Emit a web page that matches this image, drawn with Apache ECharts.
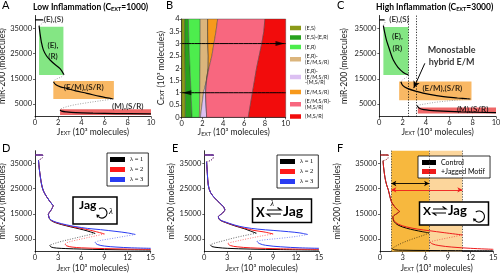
<!DOCTYPE html>
<html>
<head>
<meta charset="utf-8">
<script src="https://cdn.jsdelivr.net/npm/echarts@6/dist/echarts.min.js"></script>
<style>
html, body { margin: 0; padding: 0; background: #fff; }
#main { width: 500px; height: 274px; }
</style>
</head>
<body>
<div id="main"></div>
<script>
var FONT = 'Lato, "Open Sans", sans-serif';
var SERIF = '"Liberation Serif", "DejaVu Serif", serif';
var GREY = '#8c8c8c';

// ---- Panel A: low inflammation (x: J_EXT in 10^3, y: miR-200 molecules)
var aTop = [[0, 38300], [0.7, 38300]];
var aTopFold = [[0.7, 38300], [0.75, 37600], [0.55, 36600], [0.35, 36000]];
var aER = [[0.35, 36000], [0.43, 33000], [0.55, 29500], [0.72, 26400], [1.0, 24000], [1.3, 22400], [1.7, 20700], [2.16, 19000], [2.5, 16600]];
var aFold1 = [[2.5, 16600], [2.3, 15800], [1.9, 15000], [1.65, 14300], [1.6, 13700]];
var aEM = [[1.6, 13700], [1.8, 12600], [2.2, 11800], [2.74, 11200], [3.5, 10200], [4.47, 9250], [5.6, 8000], [6.75, 7000]];
var aFold2 = [[6.75, 7000], [5.5, 6200], [4.2, 5300], [3.2, 4500], [2.5, 3600], [2.2, 3000], [2.16, 2650]];
var aM = [[2.16, 2650], [2.3, 2200], [2.7, 1900], [3.5, 1600], [5, 1400], [7, 1250], [10, 1100]];
var aGreenBox = [[0.35, 16500], [2.45, 35600]];
var aOrangeBox = [[1.58, 7000], [6.8, 14100]];
var aRedBox = [[2.16, 700], [10, 2900]];
var aLabels = [[1.6, 38300, '(E),(S)'], [1.55, 26000, '(E),\n(R)'], [4.2, 11500, '(E/M),(S/R)'], [8.0, 4200, '(M),(S/R)']];

// ---- Panel C: high inflammation
var cTop = [[0, 38300], [0.45, 38300]];
var cTopFold = [[0.45, 38300], [0.5, 37500], [0.4, 36500], [0.35, 36000]];
var cER = [[0.35, 36000], [0.45, 33500], [0.6, 30500], [0.77, 28000], [1.0, 24800], [1.2, 22400], [1.6, 19500], [2.06, 17500], [2.5, 16500]];
var cFold1 = [[2.5, 16500], [2.3, 15500], [2.0, 14600], [1.85, 13800]];
var cEM = [[1.85, 13800], [2.0, 12400], [2.4, 11200], [3.2, 10000], [4.3, 8800], [5.5, 7900], [6.7, 7400], [7.8, 7000]];
var cFold2 = [[7.8, 7000], [6.5, 6500], [5.0, 5800], [4.0, 5100], [3.4, 4600], [3.25, 4300]];
var cM = [[3.25, 4300], [3.4, 3400], [3.8, 2800], [5, 2300], [7, 1900], [10, 1600]];
var cGreenBox = [[0.35, 16500], [2.5, 35500]];
var cOrangeBox = [[1.7, 6500], [7.9, 13900]];
var cRedBox = [[3.3, 1300], [10, 3600]];
var cVLines = [2.5, 3.15];
var cArrow = [[3.9, 21100], [2.95, 11300]];
var cLabels = [[1.69, 38300, '(E),(S)'], [1.55, 29400, '(E),\n(R)'], [5.4, 11200, '(E/M),(S/R)'], [8.0, 3000, '(M),(S/R)']];
var cNote = [[6.2, 24000, 'Monostable\nhybrid E/M']];

// ---- Panel B: phase regions, boundaries x(C_EXT)
var bY = [0, 0.5, 1, 1.5, 2, 2.5, 3, 3.5, 4];
var bLeft = [0, 0, 0, 0, 0, 0, 0, 0, 0];
var bOlive = [0.35, 0.35, 0.35, 0.35, 0.33, 0.32, 0.3, 0.3, 0.3];
var bDkGreen = [1.0, 0.95, 0.9, 0.85, 0.8, 0.75, 0.7, 0.67, 0.65];
var bLtGreen = [1.7, 1.72, 1.74, 1.75, 1.76, 1.77, 1.78, 1.78, 1.78];
var bTan = [1.8, 1.95, 2.1, 2.38, 2.55, 2.56, 2.52, 2.5, 2.5];
var bLav = [2.4, 2.35, 2.3, 2.38, 2.55, 2.56, 2.52, 2.5, 2.5];
var bOrange = [2.4, 2.35, 2.3, 2.4, 2.62, 2.9, 3.1, 3.3, 3.46];
var bPink = [6.4, 6.6, 6.8, 7.0, 7.2, 7.45, 7.7, 7.9, 8.0];
var bRight = [10, 10, 10, 10, 10, 10, 10, 10, 10];
var bNames = ['(E,S)', '(E,S)-(E,R)', '(E,R)', '(E,R)-\n(E/M,S/R)', '(E,R)-\n(E/M,S/R)\n-(M,S/R)', '(E/M,S/R)', '(E/M,S/R)-\n(M,S/R)', '(M,S/R)'];
var bColors = ['#8b9a18', '#27a21d', '#4ded4d', '#dbb57c', '#dcc0f2', '#f7991c', '#f8677f', '#f20c0c'];
var bLineHi = [[0, 3], [10, 3]];
var bLineLo = [[0, 1], [10, 1]];
var bHeadRight = [[9.45, 3]];
var bHeadLeft = [[0.5, 1]];

// ---- Panel D: Jag self-activation, lambda = 1, 2, 3
var lamNames = ['λ = 1', 'λ = 2', 'λ = 3'];
var lamColors = ['#000000', '#ff1a1a', '#2a3cf2'];
var dTop = [[0, 38300], [1.0, 38300]];
var dTopFold = [[1.0, 38300], [0.95, 37200], [0.7, 36600], [0.45, 36300]];
var dER = [[0.45, 36300], [0.55, 33000], [0.7, 29500], [0.87, 26400], [1.1, 24000], [1.5, 21800], [1.9, 20000], [2.37, 18200]];
var dFold1 = [[2.37, 18200], [2.1, 16500], [1.85, 15500], [1.73, 14800]];
var dEM = [
  [[1.73, 14800], [1.85, 13200], [2.1, 12300], [2.8, 11300], [4.1, 10200], [5.2, 9400], [6.3, 8600], [7.2, 7800], [7.8, 7200]],
  [[1.73, 14800], [1.85, 13250], [2.1, 12400], [2.8, 11450], [4.1, 10400], [5.2, 9650], [6.5, 8900], [7.8, 8000], [9.0, 7000]],
  [[1.73, 14800], [1.85, 13300], [2.1, 12500], [2.8, 11600], [4.1, 10600], [5.2, 9950], [6.8, 9200], [8.5, 8700], [10.5, 8000], [12, 7400], [13, 6800]]
];
var dFold2 = [
  [[7.8, 7200], [6.5, 6300], [5, 5200], [3.5, 4100], [2.4, 3100], [1.9, 2500]],
  [[9.0, 7000], [7.8, 6200], [6.3, 5200], [5, 4300], [4.1, 3500], [3.9, 3000]],
  [[13, 6800], [11.5, 6000], [10, 5200], [8.8, 4600], [8, 4000], [7.8, 3600]]
];
var dM = [
  [[1.9, 2500], [2.1, 1800], [2.8, 1400], [4, 1200], [6, 1000], [9, 800], [12, 700], [15, 600]],
  [[3.9, 3000], [4.1, 2300], [4.8, 1800], [6, 1500], [9, 1200], [12, 1000], [15, 900]],
  [[7.8, 3600], [8.1, 2800], [9, 2200], [10.5, 1800], [12.5, 1500], [15, 1300]]
];

// ---- Panel E: X <-> Jag exchange, lambda = 1, 2, 3
var eTop = [[0, 38300], [1.2, 38300]];
var eTopFold = [[1.2, 38300], [1.15, 37000], [0.7, 36000], [0.3, 35600]];
var eER = [[0.3, 35600], [0.4, 31000], [0.52, 26400], [0.8, 23500], [1.4, 21100], [2.0, 19300], [2.5, 17800], [2.7, 16500]];
var eFold1 = [[2.7, 16500], [2.4, 15300], [2.0, 14400], [1.83, 13800]];
var eEM = [
  [[1.83, 13800], [2.0, 12600], [2.7, 11600], [4, 10200], [5.3, 9000], [6.0, 8200], [6.8, 7300]],
  [[1.83, 13800], [2.0, 12650], [2.7, 11700], [4, 10350], [5.3, 9250], [6.5, 8400], [7.8, 7800], [9.0, 7000]],
  [[1.83, 13800], [2.0, 12700], [2.7, 11800], [4, 10500], [5.3, 9600], [7, 8900], [9, 8400], [11, 7900], [12.5, 7400], [13.5, 6800]]
];
var eFold2 = [
  [[6.8, 7300], [5.5, 6500], [4, 5500], [2.5, 4300], [1.3, 3300], [0.8, 2700]],
  [[9.0, 7000], [7.5, 6200], [5.5, 5000], [4, 4000], [3.2, 3400], [3.1, 3100]],
  [[13.5, 6800], [12, 6000], [10, 5300], [8, 4700], [7.1, 4300], [6.9, 4000]]
];
var eM = [
  [[0.8, 2700], [1.0, 2000], [1.8, 1600], [3, 1300], [6, 1000], [10, 800], [15, 600]],
  [[3.1, 3100], [3.4, 2400], [4.3, 1900], [6, 1500], [10, 1100], [15, 900]],
  [[6.9, 4000], [7.2, 3200], [8, 2500], [10, 1900], [12.5, 1500], [15, 1300]]
];

// ---- Panel F: control vs +Jagged motif
var fNames = ['Control', '+Jagged Motif'];
var fColors = ['#000000', '#ee1c1c'];
var fTop = [[0, 38300], [1.1, 38300]];
var fTopFold = [[1.1, 38300], [1.05, 37000], [0.7, 36300], [0.4, 36000]];
var fER = [[0.4, 36000], [0.47, 33600], [0.65, 29500], [0.88, 26400], [1.1, 24500], [1.3, 22000], [1.55, 19500], [2.0, 17600], [2.6, 15900]];
var fFold1 = [[2.6, 15900], [2.2, 15000], [1.85, 14300], [1.7, 13800]];
var fEM = [
  [[1.7, 13800], [1.85, 12000], [2.4, 10500], [3.5, 9300], [4.6, 8500], [5.6, 7900], [6.5, 7400]],
  [[1.7, 13800], [1.85, 12300], [2.4, 10900], [3.5, 9800], [5, 8900], [6.5, 8300], [8.5, 7500], [10.9, 6600]]
];
var fFold2 = [
  [[6.5, 7400], [5.6, 6300], [4.3, 5000], [3.0, 3500], [2.0, 2000], [1.6, 1200]],
  [[10.9, 6600], [9.6, 5800], [8.3, 5000], [7.2, 4300], [6.6, 3900]]
];
var fM = [
  [[1.6, 1200], [1.9, 700], [3, 550], [6, 450], [10, 380], [15, 320]],
  [[6.6, 3900], [6.9, 3100], [7.8, 2400], [9.5, 1800], [12, 1300], [15, 900]]
];
var fDarkBand = [1.5, 6.5];
var fLightBand = [6.5, 10.9];
var fVLines = [1.5, 6.5, 10.9];
var fArrowCtrl = [[1.5, 27000], [6.5, 27000]];
var fArrowJag = [[1.5, 24500], [10.9, 24500]];

var mirTicks = [5000, 15000, 25000, 35000];

var myChart = echarts.init(document.getElementById('main'));

var subRich = {
  n: { fontFamily: FONT, fontSize: 8.5, color: '#222' },
  s: { fontFamily: FONT, fontSize: 5.5, color: '#222', verticalAlign: 'bottom' }
};
var jName = '{n|J}{s|EXT}{n| (10³ molecules)}';

function xAxisCfg(g, max, interval, gap) {
  return {
    type: 'value', gridIndex: g, min: 0, max: max, interval: interval,
    axisLine: { lineStyle: { color: '#000', width: 0.8 } },
    axisTick: { length: 2, lineStyle: { color: '#000', width: 0.6 } },
    splitLine: { show: false },
    axisLabel: { fontSize: 7.5, color: '#222', margin: 2, fontFamily: FONT },
    name: jName, nameLocation: 'middle', nameGap: gap,
    nameTextStyle: { fontFamily: FONT, fontSize: 8.5, color: '#222', rich: subRich }
  };
}
function mirAxis(g, gap) {
  return {
    type: 'value', gridIndex: g, min: 0, max: 40000,
    axisLine: { lineStyle: { color: '#000', width: 0.8 } },
    axisTick: { length: 2, customValues: mirTicks, lineStyle: { color: '#000', width: 0.6 } },
    splitLine: { show: false },
    axisLabel: { fontSize: 7.5, color: '#222', margin: 3, fontFamily: FONT, customValues: mirTicks,
      formatter: function (v) { return String(v); } },
    name: 'miR-200 (molecules)', nameLocation: 'middle', nameGap: gap,
    nameTextStyle: { fontFamily: FONT, fontSize: 8.5, color: '#222' }
  };
}

function seg(g, data, color, width, dotted, name) {
  var s = {
    type: 'line', xAxisIndex: g, yAxisIndex: g, data: data, smooth: 0.35,
    symbol: 'none', silent: true, z: 5, color: color,
    lineStyle: { color: color, width: width, type: dotted ? [1, 1.5] : 'solid' }
  };
  if (name) s.name = name;
  return s;
}
function host(g, extra) {
  var s = { type: 'line', xAxisIndex: g, yAxisIndex: g, data: [[0, 0]], symbol: 'none', silent: true, z: 2,
    lineStyle: { width: 0 } };
  for (var k in extra) s[k] = extra[k];
  return s;
}
function boxes(list) {
  return {
    silent: true, label: { show: false },
    data: list.map(function (b) {
      return [{ coord: b[0], itemStyle: { color: b[2], opacity: 1 } }, { coord: b[1] }];
    })
  };
}
function labels(g, data, size, lh) {
  return {
    type: 'scatter', xAxisIndex: g, yAxisIndex: g, data: data, symbolSize: 0, silent: true, z: 8,
    label: { show: true, position: 'inside', formatter: function (p) { return p.data[2]; },
      fontFamily: FONT, fontWeight: 'bold', fontSize: size, color: '#000', lineHeight: lh }
  };
}

var series = [];

// Panel A
series.push(host(0, { markArea: boxes([
  [aGreenBox[0], aGreenBox[1], '#84e684'],
  [aOrangeBox[0], aOrangeBox[1], '#f9b864'],
  [aRedBox[0], aRedBox[1], '#ef6868']
]) }));
series.push(seg(0, aTop, '#000', 1.2), seg(0, aTopFold, GREY, 0.8, true), seg(0, aER, '#000', 1.2),
  seg(0, aFold1, GREY, 0.8, true), seg(0, aEM, '#000', 1.2), seg(0, aFold2, GREY, 0.8, true), seg(0, aM, '#000', 1.2));
series.push(labels(0, aLabels, 8, 11.5));

// Panel C
series.push(host(2, { markArea: boxes([
  [cGreenBox[0], cGreenBox[1], '#84e684'],
  [cOrangeBox[0], cOrangeBox[1], '#f9b864'],
  [cRedBox[0], cRedBox[1], '#ef6868']
]) }));
series.push(host(2, { z: 6, markLine: { silent: true, symbol: ['none', 'none'], label: { show: false },
  lineStyle: { type: [1.2, 1.5], color: '#000', width: 0.8 },
  data: cVLines.map(function (v) { return { xAxis: v }; }) } }));
series.push(host(2, { z: 7, markLine: { silent: true, symbol: ['none', 'arrow'], symbolSize: [5, 7], label: { show: false },
  lineStyle: { type: 'solid', color: '#000', width: 1 },
  data: [[{ coord: cArrow[0] }, { coord: cArrow[1] }]] } }));
series.push(seg(2, cTop, '#000', 1.2), seg(2, cTopFold, GREY, 0.8, true), seg(2, cER, '#000', 1.2),
  seg(2, cFold1, GREY, 0.8, true), seg(2, cEM, '#000', 1.2), seg(2, cFold2, GREY, 0.8, true), seg(2, cM, '#000', 1.2));
series.push(labels(2, cLabels, 8, 11.5));
series.push(labels(2, cNote, 9, 12));

// Panel B regions
var bEdges = [bLeft, bOlive, bDkGreen, bLtGreen, bTan, bLav, bOrange, bPink, bRight];
bNames.forEach(function (nm, i) {
  series.push({
    type: 'custom', name: nm, xAxisIndex: 1, yAxisIndex: 1, z: 1, silent: true,
    itemStyle: { color: bColors[i] }, data: [[i, 0]],
    renderItem: function (params, api) {
      var L = bEdges[i], R = bEdges[i + 1], pts = [];
      for (var k = 0; k < bY.length; k++) pts.push(api.coord([L[k], bY[k]]));
      for (var k2 = bY.length - 1; k2 >= 0; k2--) pts.push(api.coord([R[k2], bY[k2]]));
      return { type: 'polygon', shape: { points: pts },
        style: { fill: bColors[i], stroke: '#3a3a3a', lineWidth: 0.4 } };
    }
  });
});
series.push(seg(1, bLineHi, '#000', 1), seg(1, bLineLo, '#000', 1));
series.push({ type: 'scatter', xAxisIndex: 1, yAxisIndex: 1, data: bHeadRight, symbol: 'triangle',
  symbolSize: [5, 9], symbolRotate: -90, itemStyle: { color: '#000' }, silent: true, z: 6 });
series.push({ type: 'scatter', xAxisIndex: 1, yAxisIndex: 1, data: bHeadLeft, symbol: 'triangle',
  symbolSize: [5, 9], symbolRotate: 90, itemStyle: { color: '#000' }, silent: true, z: 6 });

// Panels D and E
function lambdaPanel(g, top, topFold, er, fold1, em, fold2, m) {
  for (var i = 0; i < 3; i++) {
    var c = lamColors[i];
    series.push(seg(g, top, c, 1, false, lamNames[i]), seg(g, topFold, c, 0.6, true), seg(g, er, c, 1, false, lamNames[i]),
      seg(g, fold1, c, 0.8, false, lamNames[i]), seg(g, em[i], c, 1, false, lamNames[i]),
      seg(g, fold2[i], c, 0.6, true), seg(g, m[i], c, 1, false, lamNames[i]));
  }
}
lambdaPanel(3, dTop, dTopFold, dER, dFold1, dEM, dFold2, dM);
lambdaPanel(4, eTop, eTopFold, eER, eFold1, eEM, eFold2, eM);

// Panel F
series.push(host(5, { z: 1, markArea: { silent: true, label: { show: false }, data: [
  [{ xAxis: fDarkBand[0], itemStyle: { color: '#f7b83e', opacity: 1 } }, { xAxis: fDarkBand[1] }],
  [{ xAxis: fLightBand[0], itemStyle: { color: '#fcd69c', opacity: 1 } }, { xAxis: fLightBand[1] }]
] } }));
series.push(host(5, { z: 3, markLine: { silent: true, symbol: ['none', 'none'], label: { show: false },
  lineStyle: { type: [1.2, 1.5], color: '#333', width: 0.8 },
  data: fVLines.map(function (v) { return { xAxis: v }; }) } }));
series.push(host(5, { z: 6, markLine: { silent: true, symbol: ['arrow', 'arrow'], symbolSize: [4, 5], label: { show: false },
  lineStyle: { type: 'solid', color: '#000', width: 0.9 },
  data: [[{ coord: fArrowCtrl[0] }, { coord: fArrowCtrl[1] }]] } }));
series.push(host(5, { z: 6, markLine: { silent: true, symbol: ['arrow', 'arrow'], symbolSize: [4, 5], label: { show: false },
  lineStyle: { type: 'solid', color: '#ee1c1c', width: 0.9 },
  data: [[{ coord: fArrowJag[0] }, { coord: fArrowJag[1] }]] } }));
for (var f = 0; f < 2; f++) {
  var fc = fColors[f];
  series.push(seg(5, fTop, fc, 1, false, fNames[f]), seg(5, fTopFold, fc, 0.6, true), seg(5, fER, fc, 1, false, fNames[f]),
    seg(5, fFold1, fc, 0.8, false, fNames[f]), seg(5, fEM[f], fc, 1, false, fNames[f]),
    seg(5, fFold2[f], fc, 0.6, true), seg(5, fM[f], fc, 1, false, fNames[f]));
}

// inset diagrams
function harpoons(x0, x1, y) {
  return [
    { type: 'polyline', shape: { points: [[x0, y], [x1, y], [x1 - 3.5, y - 2.5]] }, style: { stroke: '#000', lineWidth: 1.2, fill: null } },
    { type: 'polyline', shape: { points: [[x1, y + 4], [x0, y + 4], [x0 + 3.5, y + 6.5]] }, style: { stroke: '#000', lineWidth: 1.2, fill: null } }
  ];
}
function loopArrow(cx, cy, r) {
  var a = Math.PI * 0.75;
  var ex = cx + r * Math.cos(a), ey = cy + r * Math.sin(a);
  var dx = -Math.sin(a), dy = Math.cos(a);
  return [
    { type: 'arc', shape: { cx: cx, cy: cy, r: r, startAngle: -Math.PI * 0.7, endAngle: a, clockwise: true },
      style: { stroke: '#000', lineWidth: 1.1, fill: null } },
    { type: 'polygon', shape: { points: [[ex + dx * 3, ey + dy * 3], [ex - dy * 2, ey + dx * 2], [ex + dy * 2, ey - dx * 2]] },
      style: { fill: '#000' } }
  ];
}
var insetText = function (x, y, t, size, extra) {
  var st = { text: t, x: x, y: y, fontFamily: FONT, fontWeight: 'bold', fontSize: size, fill: '#000', verticalAlign: 'middle' };
  for (var k in (extra || {})) st[k] = extra[k];
  return { type: 'text', style: st, z: 20 };
};
var graphic = [
  { type: 'rect', shape: { x: 73, y: 197, width: 44, height: 27 }, style: { fill: '#fff', stroke: '#000', lineWidth: 1.5 }, z: 19 },
  insetText(79, 205, 'Jag', 12),
  { type: 'rect', shape: { x: 252.5, y: 199, width: 59, height: 23.5 }, style: { fill: '#fff', stroke: '#000', lineWidth: 1.5 }, z: 19 },
  insetText(256, 212.5, 'X', 13),
  insetText(270.5, 203.5, 'λ', 8, { fontFamily: SERIF, fontWeight: 'normal', fontStyle: 'italic' }),
  insetText(283, 211.5, 'Jag', 14),
  { type: 'rect', shape: { x: 419.5, y: 202, width: 69, height: 23 }, style: { fill: '#fff', stroke: '#000', lineWidth: 1.5 }, z: 19 },
  insetText(423, 211, 'X', 12),
  insetText(448, 210.5, 'Jag', 13)
];
graphic.push(insetText(109, 212, 'λ', 9, { fontFamily: SERIF, fontWeight: 'normal', fontStyle: 'italic' }));
loopArrow(102, 213, 5).concat(harpoons(267, 281, 210), harpoons(433, 446, 209), loopArrow(479, 216.5, 5.5))
  .forEach(function (el) { el.z = 20; graphic.push(el); });

var titleRich = {
  b: { fontFamily: FONT, fontSize: 8.5, fontWeight: 'bold', color: '#000' },
  s: { fontFamily: FONT, fontSize: 5.5, fontWeight: 'bold', color: '#000', verticalAlign: 'bottom' }
};
function letter(t, x, y) {
  return { text: t, left: x, top: y, padding: 0, textStyle: { fontFamily: FONT, fontSize: 11, fontWeight: 'normal', color: '#000' } };
}

var option = {
  animation: false,
  backgroundColor: '#fff',
  title: [
    letter('A', 2, 0), letter('B', 166, 0), letter('C', 337, 0),
    letter('D', 2, 143), letter('E', 172, 143), letter('F', 337, 143),
    { text: '{b|Low Inflammation (C}{s|EXT}{b|=1000)}', left: 33, top: 3, padding: 0, textStyle: { rich: titleRich } },
    { text: '{b|High Inflammation (C}{s|EXT}{b|=3000)}', left: 376, top: 3, padding: 0, textStyle: { rich: titleRich } }
  ],
  legend: [
    { data: bNames, orient: 'vertical', left: 290, top: 25, padding: 0, itemGap: 3.5, itemWidth: 11, itemHeight: 4.5,
      icon: 'rect', selectedMode: false, textStyle: { fontFamily: FONT, fontSize: 5.5, lineHeight: 5.5, color: '#222', padding: [0, 0, 0, -1] } },
    { data: lamNames, orient: 'vertical', left: 107, top: 153, padding: [3, 5, 3, 3], itemGap: 3, itemWidth: 15, itemHeight: 5,
      icon: 'rect', selectedMode: false, backgroundColor: '#fff', borderColor: '#000', borderWidth: 0.8,
      textStyle: { fontFamily: SERIF, fontSize: 6.5, color: '#000' } },
    { data: lamNames, orient: 'vertical', left: 277, top: 155, padding: [3, 5, 3, 3], itemGap: 3, itemWidth: 15, itemHeight: 5,
      icon: 'rect', selectedMode: false, backgroundColor: '#fff', borderColor: '#000', borderWidth: 0.8,
      textStyle: { fontFamily: SERIF, fontSize: 6.5, color: '#000' } },
    { data: fNames, orient: 'vertical', left: 418, top: 156, padding: [3, 5, 3, 4], itemGap: 2, itemWidth: 14, itemHeight: 5,
      icon: 'rect', selectedMode: false, backgroundColor: '#fff', borderColor: '#000', borderWidth: 0.8,
      textStyle: { fontFamily: FONT, fontSize: 7, color: '#000' } }
  ],
  grid: [
    { left: 35, top: 15.5, width: 116, height: 101.2, outerBoundsMode: 'none' },
    { left: 181.7, top: 19, width: 104, height: 98.3, outerBoundsMode: 'none' },
    { left: 379.3, top: 15.5, width: 116.7, height: 101.2, outerBoundsMode: 'none' },
    { left: 35, top: 150.7, width: 115.7, height: 100.9, outerBoundsMode: 'none' },
    { left: 204.3, top: 150.7, width: 114.7, height: 100.9, outerBoundsMode: 'none' },
    { left: 380, top: 150.7, width: 113.3, height: 100.9, outerBoundsMode: 'none' }
  ],
  xAxis: [
    xAxisCfg(0, 10, 2, 10), xAxisCfg(1, 10, 2, 10), xAxisCfg(2, 10, 2, 10),
    xAxisCfg(3, 15, 3, 12), xAxisCfg(4, 15, 3, 12), xAxisCfg(5, 15, 3, 12)
  ],
  yAxis: [
    mirAxis(0, 25),
    {
      type: 'value', gridIndex: 1, min: 0, max: 4, interval: 0.5,
      axisLine: { lineStyle: { color: '#000', width: 0.8 } },
      axisTick: { length: 2, lineStyle: { color: '#000', width: 0.6 } },
      splitLine: { show: false },
      axisLabel: { fontSize: 7.5, color: '#222', margin: 2, fontFamily: FONT },
      name: '{n|C}{s|EXT}{n| (10³ molecules)}', nameLocation: 'middle', nameGap: 10,
      nameTextStyle: { fontFamily: FONT, fontSize: 8.5, color: '#222', rich: subRich }
    },
    mirAxis(2, 31), mirAxis(3, 25), mirAxis(4, 27), mirAxis(5, 38)
  ],
  graphic: graphic,
  series: series
};
myChart.setOption(option);
window.addEventListener('resize', function () {
  myChart.resize();
});
</script>
</body>
</html>
